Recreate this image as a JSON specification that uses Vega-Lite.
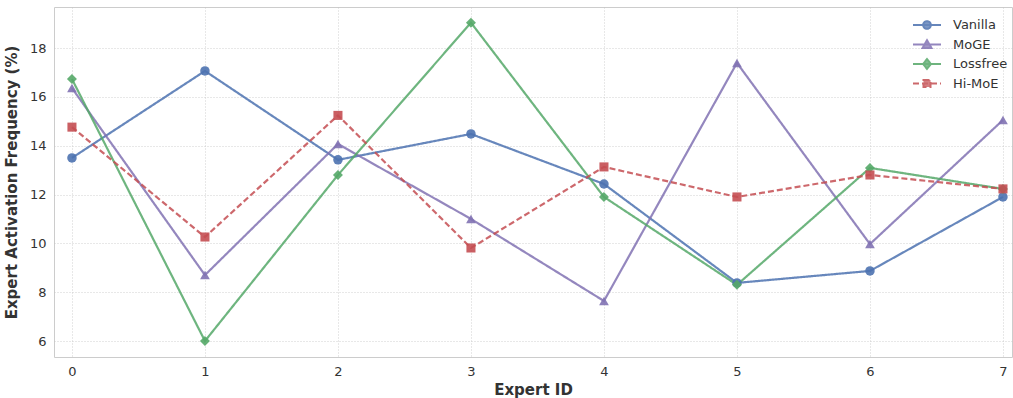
{
  "$schema": "https://vega.github.io/schema/vega-lite/v6.json",
  "width": 958,
  "height": 350,
  "autosize": {"type": "none"},
  "padding": {"left": 54, "top": 7, "right": 1, "bottom": 41},
  "background": "white",
  "config": {
    "font": "DejaVu Sans",
    "view": {"stroke": "#cccccc", "strokeWidth": 1},
    "axis": {
      "domain": false,
      "ticks": false,
      "grid": true,
      "gridColor": "#c4c4c4",
      "gridDash": [1, 2],
      "gridWidth": 0.8,
      "labelFontSize": 13,
      "labelColor": "#333333",
      "titleFontSize": 15,
      "titleFontWeight": "bold",
      "titleColor": "#333333",
      "labelPadding": 8
    }
  },
  "data": {
    "values": [
      {"id": 0, "method": "Vanilla", "freq": 13.50},
      {"id": 1, "method": "Vanilla", "freq": 17.06},
      {"id": 2, "method": "Vanilla", "freq": 13.42},
      {"id": 3, "method": "Vanilla", "freq": 14.48},
      {"id": 4, "method": "Vanilla", "freq": 12.43},
      {"id": 5, "method": "Vanilla", "freq": 8.38},
      {"id": 6, "method": "Vanilla", "freq": 8.87},
      {"id": 7, "method": "Vanilla", "freq": 11.90},
      {"id": 0, "method": "MoGE", "freq": 16.36},
      {"id": 1, "method": "MoGE", "freq": 8.70},
      {"id": 2, "method": "MoGE", "freq": 14.07},
      {"id": 3, "method": "MoGE", "freq": 11.00},
      {"id": 4, "method": "MoGE", "freq": 7.64},
      {"id": 5, "method": "MoGE", "freq": 17.39},
      {"id": 6, "method": "MoGE", "freq": 9.97},
      {"id": 7, "method": "MoGE", "freq": 15.05},
      {"id": 0, "method": "Lossfree", "freq": 16.73},
      {"id": 1, "method": "Lossfree", "freq": 6.00},
      {"id": 2, "method": "Lossfree", "freq": 12.80},
      {"id": 3, "method": "Lossfree", "freq": 19.04},
      {"id": 4, "method": "Lossfree", "freq": 11.90},
      {"id": 5, "method": "Lossfree", "freq": 8.30},
      {"id": 6, "method": "Lossfree", "freq": 13.09},
      {"id": 7, "method": "Lossfree", "freq": 12.23},
      {"id": 0, "method": "Hi-MoE", "freq": 14.76},
      {"id": 1, "method": "Hi-MoE", "freq": 10.26},
      {"id": 2, "method": "Hi-MoE", "freq": 15.24},
      {"id": 3, "method": "Hi-MoE", "freq": 9.81},
      {"id": 4, "method": "Hi-MoE", "freq": 13.13},
      {"id": 5, "method": "Hi-MoE", "freq": 11.90},
      {"id": 6, "method": "Hi-MoE", "freq": 12.80},
      {"id": 7, "method": "Hi-MoE", "freq": 12.23}
    ]
  },
  "encoding": {
    "x": {
      "field": "id",
      "type": "quantitative",
      "title": "Expert ID",
      "scale": {"domain": [-0.135, 7.068], "nice": false, "zero": false},
      "axis": {"values": [0, 1, 2, 3, 4, 5, 6, 7], "labelAngle": 0, "titlePadding": 4}
    },
    "y": {
      "field": "freq",
      "type": "quantitative",
      "title": "Expert Activation Frequency (%)",
      "scale": {"domain": [5.345, 19.68], "nice": false, "zero": false},
      "axis": {"values": [6, 8, 10, 12, 14, 16, 18], "titlePadding": 10}
    },
    "color": {
      "field": "method",
      "type": "nominal",
      "title": null,
      "scale": {
        "domain": ["Vanilla", "MoGE", "Lossfree", "Hi-MoE"],
        "range": ["#4C72B0", "#8172B3", "#55A868", "#C44E52"]
      }
    }
  },
  "layer": [
    {
      "mark": {"type": "point", "filled": false, "size": 0, "opacity": 0.85},
      "encoding": {
        "color": {
          "field": "method",
          "type": "nominal",
          "title": null,
          "legend": {
            "orient": "none",
            "legendX": 865,
            "legendY": 10,
            "padding": 0,
            "labelFontSize": 13,
            "labelColor": "#333333",
            "rowPadding": 2.5,
            "symbolSize": 196,
            "symbolStrokeWidth": 2,
            "labelOffset": 18
          }
        },
        "fill": {
          "field": "method",
          "type": "nominal",
          "title": null,
          "scale": {
            "domain": ["Vanilla", "MoGE", "Lossfree", "Hi-MoE"],
            "range": ["#4C72B0", "#8172B3", "#55A868", "#C44E52"]
          }
        },
        "shape": {
          "field": "method",
          "type": "nominal",
          "title": null,
          "scale": {
            "domain": ["Vanilla", "MoGE", "Lossfree", "Hi-MoE"],
            "range": [
              "M-2,0H2M-0.55,0A0.55,0.55 0 1,0 0.55,0A0.55,0.55 0 1,0 -0.55,0Z",
              "M-2,0H2M0,-0.62L0.64,0.5L-0.64,0.5Z",
              "M-2,0H2M0,-0.7L0.56,0L0,0.7L-0.56,0Z",
              "M-2,0H2M-0.5,-0.5H0.5V0.5H-0.5Z"
            ]
          }
        },
        "strokeDash": {
          "field": "method",
          "type": "nominal",
          "title": null,
          "scale": {"domain": ["Vanilla", "MoGE", "Lossfree", "Hi-MoE"], "range": [[1, 0], [1, 0], [1, 0], [6, 3]]}
        }
      }
    },
    {
      "mark": {"type": "line", "strokeWidth": 2.2, "opacity": 0.85},
      "encoding": {
        "strokeDash": {
          "field": "method",
          "type": "nominal",
          "title": null
        }
      }
    },
    {
      "transform": [{"filter": "datum.method === 'Vanilla'"}],
      "mark": {"type": "point", "filled": true, "opacity": 0.9, "size": 90, "shape": "circle"}
    },
    {
      "transform": [{"filter": "datum.method === 'MoGE'"}],
      "mark": {"type": "point", "filled": true, "opacity": 0.9, "size": 95, "shape": "triangle-up"}
    },
    {
      "transform": [{"filter": "datum.method === 'Lossfree'"}],
      "mark": {"type": "point", "filled": true, "opacity": 0.9, "size": 100, "shape": "diamond"}
    },
    {
      "transform": [{"filter": "datum.method === 'Hi-MoE'"}],
      "mark": {"type": "point", "filled": true, "opacity": 0.9, "size": 82, "shape": "square"}
    }
  ]
}
